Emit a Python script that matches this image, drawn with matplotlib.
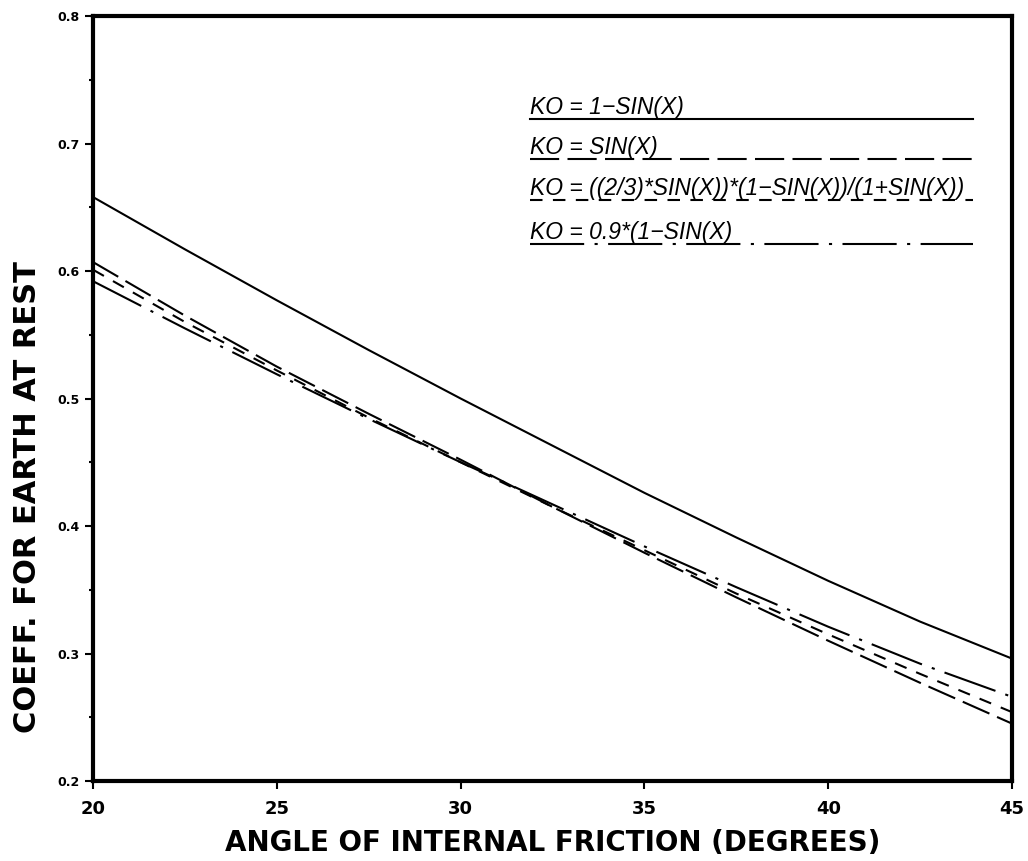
import matplotlib.pyplot as plt
from matplotlib.lines import Line2D
from matplotlib.ticker import MultipleLocator

# values
angle = [20, 22.5, 25, 27.5, 30, 32.5, 35, 37.5, 40, 42.5, 45]
ko_one_minus_sin = [0.658, 0.617, 0.577, 0.538, 0.500, 0.463, 0.426, 0.391, 0.357, 0.325, 0.296]
ko_sin = [0.607, 0.565, 0.525, 0.488, 0.452, 0.415, 0.379, 0.344, 0.310, 0.277, 0.245]
ko_two_thirds = [0.601, 0.560, 0.522, 0.485, 0.450, 0.415, 0.381, 0.347, 0.315, 0.284, 0.254]
ko_point_nine = [0.592, 0.555, 0.519, 0.484, 0.450, 0.417, 0.384, 0.352, 0.321, 0.292, 0.266]

labels = ['KO = 1\u2212SIN(X)',
          'KO = SIN(X)',
          'KO = ((2/3)*SIN(X))*(1\u2212SIN(X))/(1+SIN(X))',
          'KO = 0.9*(1\u2212SIN(X)']

x_ticks = [20, 25, 30, 35, 40, 45]
y_ticks = [0.2, 0.3, 0.4, 0.5, 0.6, 0.7, 0.8]

styles = ['-', (0, (14, 4)), (0, (6, 5)), (0, (26, 5, 1.5, 5))]
series = [ko_one_minus_sin, ko_sin, ko_two_thirds, ko_point_nine]

fig = plt.figure(figsize=(10.28, 8.61), dpi=100)
ax = fig.add_axes([0.0905, 0.0929, 0.894, 0.8885])

for values, ls in zip(series, styles):
	ax.plot(angle, values, color='black', linewidth=1.5, linestyle=ls)

ax.set_xlim(20, 45)
ax.set_ylim(0.2, 0.8)
ax.set_xticks(x_ticks)
ax.set_yticks(y_ticks)
ax.yaxis.set_minor_locator(MultipleLocator(0.05))
ax.set_xticklabels([str(t) for t in x_ticks], fontsize=13, fontweight='bold', family='DejaVu Sans')
ax.set_yticklabels(['%.1f' % t for t in y_ticks], fontsize=9, fontweight='bold', family='DejaVu Sans')
ax.tick_params(axis='both', which='major', direction='out', length=6, width=1.5, colors='black')
ax.tick_params(axis='y', which='minor', direction='out', length=3, width=1.5)
ax.tick_params(axis='x', pad=8)

for spine in ax.spines.values():
	spine.set_linewidth(3)

# legend: underlined text with line samples
x0, x1 = 0.475, 0.957
rows_line = [0.865, 0.813, 0.759, 0.702]
for lab, ls, ly in zip(labels, styles, rows_line):
	ax.text(x0, ly + 0.007, lab, transform=ax.transAxes, fontsize=16.5, style='italic',
		family='Liberation Sans', va='baseline', ha='left')
	ax.add_line(Line2D([x0, x1], [ly, ly], transform=ax.transAxes,
		color='black', linewidth=1.5, linestyle=ls))

fig.text(0.538, 0.021, 'ANGLE OF INTERNAL FRICTION (DEGREES)', fontsize=20,
	fontweight='bold', family='DejaVu Sans', ha='center', va='center')
fig.text(0.027, 0.423, 'COEFF. FOR EARTH AT REST', fontsize=22, fontweight='bold',
	family='DejaVu Sans', rotation=90, ha='center', va='center')

fig.savefig('out.png', dpi=100)
